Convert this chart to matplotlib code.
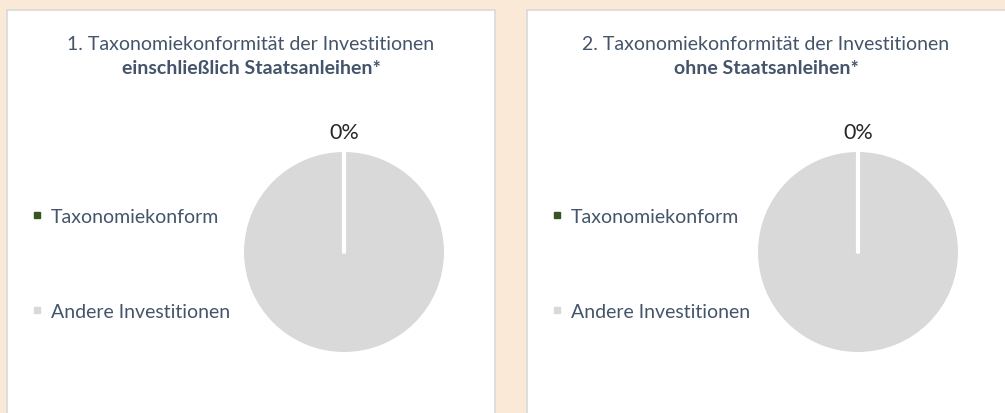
import matplotlib
matplotlib.use('Agg')
import numpy as np
import matplotlib.pyplot as plt
from matplotlib.patches import Rectangle
from matplotlib.lines import Line2D

plt.rcParams['font.family'] = ['Lato', 'DejaVu Sans']

categories = ['Taxonomiekonform', 'Andere Investitionen']
colors = ['#375623', '#D9D9D9']
werte_mit = [0, 100]
werte_ohne = [0, 100]
titel_oben = ['1. Taxonomiekonformität der Investitionen',
              '2. Taxonomiekonformität der Investitionen']
titel_fett = ['einschließlich Staatsanleihen*', 'ohne Staatsanleihen*']

W, H = 1005, 414
fig = plt.figure(figsize=(W / 100, H / 100), dpi=100)
fig.patch.set_facecolor('#FBE9D7')

text_col = '#44546A'


def px(x, y):
    return x / W, 1 - y / H


panels = [(7, 495), (527, 1010)]
pie_cx = [344, 858]

for i, werte in enumerate([werte_mit, werte_ohne]):
    x0, x1 = panels[i]
    fig.patches.append(Rectangle(px(x0, H + 5), (x1 - x0) / W, (H + 5 - 11) / H,
                                 transform=fig.transFigure, facecolor='white',
                                 edgecolor='#D9D9D9', linewidth=1.2, zorder=-1))
    mx = (x0 + min(x1, W)) / 2
    fig.text(*px(mx, 44), titel_oben[i], ha='center', va='center',
             fontsize=14, color=text_col)
    fig.text(*px(mx, 68), titel_fett[i], ha='center', va='center',
             fontsize=14, color=text_col, fontweight='bold')

    cx = pie_cx[i]
    ax = fig.add_axes([(cx - 100) / W, (H - 353) / H, 200 / W, 200 / H])
    ax.set_zorder(2)
    total = sum(werte)
    labels = [f'{werte[0] / total:.0%}', '']
    wedges, texts = ax.pie(werte, colors=colors, startangle=90, counterclock=False,
                           labels=labels, labeldistance=1.2,
                           wedgeprops=dict(linewidth=0),
                           textprops=dict(fontsize=15.5, color='#262626'))
    for t in texts:
        t.set_ha('center')
        t.set_va('center')
    # Trennlinie des 0%-Segments
    th = np.deg2rad(wedges[0].theta1)
    ax.plot([0, np.cos(th) * 1.02], [0, np.sin(th) * 1.02], color='white',
            linewidth=3, solid_capstyle='round')
    ax.set_xlim(-1, 1)
    ax.set_ylim(-1, 1)
    ax.axis('off')

    handles = [Line2D([], [], marker='s', linestyle='none', markersize=5,
                      markerfacecolor=c, markeredgecolor=c) for c in colors]
    lx = panels[i][0] + 7
    fig.legend(handles, categories, loc='center left',
               bbox_to_anchor=px(lx, 265), frameon=False, fontsize=14,
               labelcolor=text_col, labelspacing=4.0, handlelength=0.6,
               handletextpad=0.4)

fig.savefig('out.png', dpi=100, facecolor=fig.get_facecolor())
